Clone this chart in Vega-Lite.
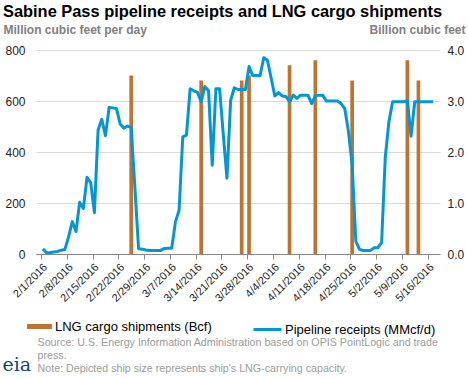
{
  "$schema": "https://vega.github.io/schema/vega-lite/v6.json",
  "width": 404,
  "height": 204,
  "autosize": {"type": "none"},
  "padding": {"left": 36, "top": 50, "right": 28, "bottom": 124},
  "background": "white",
  "config": {"view": {"stroke": null}, "font": "Liberation Sans"},
  "title": {"text": "Sabine Pass pipeline receipts and LNG cargo shipments", "anchor": "start", "frame": "group", "fontSize": 16.4, "fontWeight": "bold", "color": "#000000", "dx": -33, "dy": 5, "offset": 8},
  "datasets": {
    "pipeline": [
      {"date": "2016-02-01T12:00", "mmcfd": 20},
      {"date": "2016-02-02T12:00", "mmcfd": 5},
      {"date": "2016-02-03T12:00", "mmcfd": 6},
      {"date": "2016-02-04T12:00", "mmcfd": 8},
      {"date": "2016-02-05T12:00", "mmcfd": 10},
      {"date": "2016-02-06T12:00", "mmcfd": 15},
      {"date": "2016-02-07T12:00", "mmcfd": 18},
      {"date": "2016-02-08T12:00", "mmcfd": 68},
      {"date": "2016-02-09T12:00", "mmcfd": 127},
      {"date": "2016-02-10T12:00", "mmcfd": 88},
      {"date": "2016-02-11T12:00", "mmcfd": 203},
      {"date": "2016-02-12T12:00", "mmcfd": 179},
      {"date": "2016-02-13T12:00", "mmcfd": 301},
      {"date": "2016-02-14T12:00", "mmcfd": 280},
      {"date": "2016-02-15T12:00", "mmcfd": 162},
      {"date": "2016-02-16T12:00", "mmcfd": 486},
      {"date": "2016-02-17T12:00", "mmcfd": 528},
      {"date": "2016-02-18T12:00", "mmcfd": 464},
      {"date": "2016-02-19T12:00", "mmcfd": 575},
      {"date": "2016-02-20T12:00", "mmcfd": 573},
      {"date": "2016-02-21T12:00", "mmcfd": 570},
      {"date": "2016-02-22T12:00", "mmcfd": 510},
      {"date": "2016-02-23T12:00", "mmcfd": 493},
      {"date": "2016-02-24T12:00", "mmcfd": 502},
      {"date": "2016-02-25T12:00", "mmcfd": 495},
      {"date": "2016-02-26T12:00", "mmcfd": 260},
      {"date": "2016-02-27T12:00", "mmcfd": 21},
      {"date": "2016-02-28T12:00", "mmcfd": 19},
      {"date": "2016-02-29T12:00", "mmcfd": 16},
      {"date": "2016-03-01T12:00", "mmcfd": 14},
      {"date": "2016-03-02T12:00", "mmcfd": 14},
      {"date": "2016-03-03T12:00", "mmcfd": 14},
      {"date": "2016-03-04T12:00", "mmcfd": 14},
      {"date": "2016-03-05T12:00", "mmcfd": 22},
      {"date": "2016-03-06T12:00", "mmcfd": 23},
      {"date": "2016-03-07T12:00", "mmcfd": 23},
      {"date": "2016-03-08T12:00", "mmcfd": 125},
      {"date": "2016-03-09T12:00", "mmcfd": 172},
      {"date": "2016-03-10T12:00", "mmcfd": 459},
      {"date": "2016-03-11T12:00", "mmcfd": 466},
      {"date": "2016-03-12T12:00", "mmcfd": 648},
      {"date": "2016-03-13T12:00", "mmcfd": 640},
      {"date": "2016-03-14T12:00", "mmcfd": 634},
      {"date": "2016-03-15T12:00", "mmcfd": 597},
      {"date": "2016-03-16T12:00", "mmcfd": 657},
      {"date": "2016-03-17T12:00", "mmcfd": 640},
      {"date": "2016-03-18T12:00", "mmcfd": 348},
      {"date": "2016-03-19T12:00", "mmcfd": 648},
      {"date": "2016-03-20T12:00", "mmcfd": 648},
      {"date": "2016-03-21T12:00", "mmcfd": 470},
      {"date": "2016-03-22T12:00", "mmcfd": 297},
      {"date": "2016-03-23T12:00", "mmcfd": 602},
      {"date": "2016-03-24T12:00", "mmcfd": 652},
      {"date": "2016-03-25T12:00", "mmcfd": 645},
      {"date": "2016-03-26T12:00", "mmcfd": 645},
      {"date": "2016-03-27T12:00", "mmcfd": 645},
      {"date": "2016-03-28T12:00", "mmcfd": 735},
      {"date": "2016-03-29T12:00", "mmcfd": 700},
      {"date": "2016-03-30T12:00", "mmcfd": 700},
      {"date": "2016-03-31T12:00", "mmcfd": 700},
      {"date": "2016-04-01T12:00", "mmcfd": 770},
      {"date": "2016-04-02T12:00", "mmcfd": 760},
      {"date": "2016-04-03T12:00", "mmcfd": 690},
      {"date": "2016-04-04T12:00", "mmcfd": 620},
      {"date": "2016-04-05T12:00", "mmcfd": 633},
      {"date": "2016-04-06T12:00", "mmcfd": 620},
      {"date": "2016-04-07T12:00", "mmcfd": 618},
      {"date": "2016-04-08T12:00", "mmcfd": 597},
      {"date": "2016-04-09T12:00", "mmcfd": 623},
      {"date": "2016-04-10T12:00", "mmcfd": 610},
      {"date": "2016-04-11T12:00", "mmcfd": 623},
      {"date": "2016-04-12T12:00", "mmcfd": 623},
      {"date": "2016-04-13T12:00", "mmcfd": 623},
      {"date": "2016-04-14T12:00", "mmcfd": 590},
      {"date": "2016-04-15T12:00", "mmcfd": 620},
      {"date": "2016-04-16T12:00", "mmcfd": 623},
      {"date": "2016-04-17T12:00", "mmcfd": 623},
      {"date": "2016-04-18T12:00", "mmcfd": 600},
      {"date": "2016-04-19T12:00", "mmcfd": 600},
      {"date": "2016-04-20T12:00", "mmcfd": 600},
      {"date": "2016-04-21T12:00", "mmcfd": 600},
      {"date": "2016-04-22T12:00", "mmcfd": 590},
      {"date": "2016-04-23T12:00", "mmcfd": 570},
      {"date": "2016-04-24T12:00", "mmcfd": 480},
      {"date": "2016-04-25T12:00", "mmcfd": 350},
      {"date": "2016-04-26T12:00", "mmcfd": 50},
      {"date": "2016-04-27T12:00", "mmcfd": 18},
      {"date": "2016-04-28T12:00", "mmcfd": 14},
      {"date": "2016-04-29T12:00", "mmcfd": 14},
      {"date": "2016-04-30T12:00", "mmcfd": 14},
      {"date": "2016-05-01T12:00", "mmcfd": 25},
      {"date": "2016-05-02T12:00", "mmcfd": 25},
      {"date": "2016-05-03T12:00", "mmcfd": 45},
      {"date": "2016-05-04T12:00", "mmcfd": 380},
      {"date": "2016-05-05T12:00", "mmcfd": 520},
      {"date": "2016-05-06T12:00", "mmcfd": 597},
      {"date": "2016-05-07T12:00", "mmcfd": 597},
      {"date": "2016-05-08T12:00", "mmcfd": 597},
      {"date": "2016-05-09T12:00", "mmcfd": 597},
      {"date": "2016-05-10T12:00", "mmcfd": 600},
      {"date": "2016-05-11T12:00", "mmcfd": 462},
      {"date": "2016-05-12T12:00", "mmcfd": 597},
      {"date": "2016-05-13T12:00", "mmcfd": 597},
      {"date": "2016-05-14T12:00", "mmcfd": 597},
      {"date": "2016-05-15T12:00", "mmcfd": 597},
      {"date": "2016-05-16T12:00", "mmcfd": 597},
      {"date": "2016-05-17T12:00", "mmcfd": 597}
    ],
    "lng": [
      {"date": "2016-02-25T12:00", "bcf": 3.5},
      {"date": "2016-03-15T12:00", "bcf": 3.4},
      {"date": "2016-03-26T12:00", "bcf": 3.4},
      {"date": "2016-03-28T12:00", "bcf": 3.5},
      {"date": "2016-04-08T12:00", "bcf": 3.7},
      {"date": "2016-04-15T12:00", "bcf": 3.8},
      {"date": "2016-04-25T12:00", "bcf": 3.4},
      {"date": "2016-05-10T12:00", "bcf": 3.8},
      {"date": "2016-05-13T12:00", "bcf": 3.4}
    ]
  },
  "layer": [
    {
      "data": {"name": "lng"},
      "mark": {"type": "bar", "size": 3.7},
      "encoding": {
        "x": {
          "field": "date", "type": "temporal",
          "scale": {"domain": [{"year": 2016, "month": 2, "date": 1}, {"year": 2016, "month": 5, "date": 18}]},
          "axis": {"orient": "top", "labels": false, "ticks": false, "domain": false, "grid": false,
                   "title": "eia", "titleFont": "DejaVu Serif", "titleFontSize": 19, "titleFontWeight": "normal",
                   "titleColor": "#1c3f7a", "titleX": -34, "titleY": 320, "titleAlign": "left", "titleBaseline": "alphabetic", "titleAngle": 0}
        },
        "y": {
          "field": "bcf", "type": "quantitative",
          "scale": {"domain": [0, 4], "nice": false},
          "axis": {"orient": "right", "values": [0, 1, 2, 3, 4], "format": ".1f", "domain": false, "ticks": false, "grid": false,
                   "labelPadding": 7, "labelFontSize": 12, "labelColor": "#222222",
                   "title": "Billion cubic feet", "titleAngle": 0, "titleAlign": "right", "titleBaseline": "alphabetic",
                   "titleX": 25, "titleY": -17, "titleFontSize": 12, "titleFontWeight": "bold", "titleColor": "#808080"}
        },
        "fill": {
          "datum": "LNG cargo shipments (Bcf)",
          "scale": {"range": ["#be7430"]},
          "legend": {"orient": "none", "legendX": -9, "legendY": 264, "title": null, "padding": 0,
                     "symbolType": "M-1,-0.2H1V0.2H-1Z", "symbolSize": 625, "symbolStrokeWidth": 0,
                     "labelFontSize": 13, "labelColor": "#000000", "labelOffset": 3}
        }
      }
    },
    {
      "data": {"name": "pipeline"},
      "mark": {"type": "line", "strokeWidth": 3, "strokeJoin": "round"},
      "encoding": {
        "x": {
          "field": "date", "type": "temporal",
          "scale": {"domain": [{"year": 2016, "month": 2, "date": 1}, {"year": 2016, "month": 5, "date": 18}]},
          "axis": {
            "orient": "bottom",
            "values": [
              {"year": 2016, "month": 2, "date": 1}, {"year": 2016, "month": 2, "date": 8},
              {"year": 2016, "month": 2, "date": 15}, {"year": 2016, "month": 2, "date": 22},
              {"year": 2016, "month": 2, "date": 29}, {"year": 2016, "month": 3, "date": 7},
              {"year": 2016, "month": 3, "date": 14}, {"year": 2016, "month": 3, "date": 21},
              {"year": 2016, "month": 3, "date": 28}, {"year": 2016, "month": 4, "date": 4},
              {"year": 2016, "month": 4, "date": 11}, {"year": 2016, "month": 4, "date": 18},
              {"year": 2016, "month": 4, "date": 25}, {"year": 2016, "month": 5, "date": 2},
              {"year": 2016, "month": 5, "date": 9}, {"year": 2016, "month": 5, "date": 16}
            ],
            "format": "%-m/%-d/%Y", "labelAngle": -45, "labelFontSize": 11, "labelColor": "#222222",
            "labelOverlap": false, "labelBound": false, "labelFlush": false,
            "labelPadding": 2, "domainColor": "#888888", "tickColor": "#888888", "tickSize": 5, "grid": false,
            "title": ["Source: U.S. Energy Information Administration based on OPIS PointLogic and trade", "press.", "Note: Depicted ship size represents ship's LNG-carrying capacity."],
            "titleX": 1, "titleY": 83, "titleAlign": "left", "titleBaseline": "top", "titleAngle": 0,
            "titleFontSize": 10.7, "titleFontWeight": "normal", "titleColor": "#9a9a9a", "titleLineHeight": 13.3
          }
        },
        "y": {
          "field": "mmcfd", "type": "quantitative",
          "scale": {"domain": [0, 800], "nice": false},
          "axis": {"orient": "left", "values": [0, 200, 400, 600, 800], "domain": false, "ticks": false,
                   "grid": true, "gridColor": "#d9d9d9", "labelPadding": 11, "labelFontSize": 12, "labelColor": "#222222",
                   "title": "Million cubic feet per day", "titleAngle": 0, "titleAlign": "left", "titleBaseline": "alphabetic",
                   "titleX": -33, "titleY": -17, "titleFontSize": 12, "titleFontWeight": "bold", "titleColor": "#808080"}
        },
        "stroke": {
          "datum": "Pipeline receipts (MMcf/d)",
          "scale": {"range": ["#0096d7"]},
          "legend": {"orient": "none", "legendX": 216, "legendY": 264, "title": null, "padding": 0,
                     "symbolType": "stroke", "symbolSize": 784, "symbolStrokeWidth": 3,
                     "labelFontSize": 13, "labelColor": "#000000", "labelOffset": 2}
        }
      }
    }
  ],
  "resolve": {"scale": {"y": "independent"}, "axis": {"x": "independent"}}
}
